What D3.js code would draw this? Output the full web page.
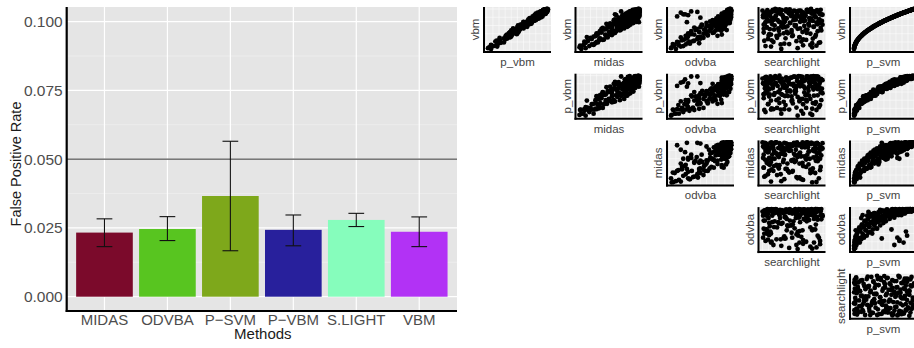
<!DOCTYPE html>
<html>
<head>
<meta charset="utf-8">
<script src="https://cdn.jsdelivr.net/npm/d3@7"></script>
<style>
  body { margin: 0; background: #fff; }
  svg { font-family: "Liberation Sans", Arial, sans-serif; }
</style>
</head>
<body>
<svg id="chart" width="914" height="348"></svg>
<script>
// bar chart data
const methods = ['MIDAS', 'ODVBA', 'P-SVM', 'P-VBM', 'S.LIGHT', 'VBM'];
const fpr = [0.0233, 0.0246, 0.0366, 0.0243, 0.0279, 0.0236];
const fprLow = [0.0182, 0.0204, 0.0167, 0.0185, 0.0255, 0.0182];
const fprHigh = [0.0283, 0.0291, 0.0565, 0.0297, 0.0303, 0.0290];
const barColors = ['#7b0a2b', '#58c520', '#7ea81b', '#28209c', '#86fdbc', '#b232f5'];
const yTicks = [0, 0.025, 0.05, 0.075, 0.1];
const alphaLine = 0.05;

// pairs data (one value per simulation)
const vbm = [
  0.03,0.07,0.10,0.12,0.15,0.18,0.20,0.22,0.25,0.27,0.29,0.31,
  0.33,0.35,0.36,0.38,0.40,0.41,0.43,0.44,0.46,0.47,0.49,0.50,
  0.51,0.52,0.54,0.55,0.56,0.57,0.58,0.59,0.60,0.61,0.62,0.63,
  0.64,0.65,0.66,0.67,0.68,0.69,0.70,0.71,0.71,0.72,0.73,0.74,
  0.75,0.75,0.76,0.77,0.78,0.78,0.79,0.80,0.80,0.81,0.82,0.82,
  0.83,0.84,0.84,0.85,0.86,0.86,0.87,0.88,0.88,0.89,0.89,0.90,
  0.90,0.91,0.91,0.92,0.92,0.93,0.93,0.94,0.94,0.95,0.95,0.96,
  0.96,0.97,0.97,0.98,0.98,0.99,0.99,1.00,0.94,0.87,0.79,0.68,
  0.05,0.09,0.13,0.16,0.19,0.23,0.26,0.30,0.34,0.37,0.39,0.42,
  0.45,0.48,0.50,0.53,0.55,0.57,0.59,0.61,0.62,0.64,0.66,0.67,
  0.69,0.70,0.72,0.73,0.74,0.76,0.77,0.78,0.79,0.81,0.82,0.83,
  0.84,0.85,0.86,0.87,0.88,0.89,0.90,0.91,0.92,0.93,0.94,0.95,
  0.96,0.97,0.98,0.99,1.00,0.98,0.96,0.93,0.91,0.88,0.85,0.80,
  0.76,0.72,0.68,0.63,0.58,0.53,0.47,0.41,0.35,0.28,0.21,0.14,
  0.11,0.24,0.32,0.44,0.52,0.60,0.65,0.71,0.75,0.82,0.87,0.92,
  0.97,0.99,0.94,0.89,0.84,0.78,0.73,0.66,0.56,0.49,0.38,0.17];
const p_vbm = [
  0.07,0.04,0.11,0.07,0.17,0.23,0.18,0.22,0.21,0.30,0.28,0.37,
  0.31,0.40,0.32,0.39,0.43,0.36,0.45,0.43,0.52,0.44,0.49,0.54,
  0.54,0.48,0.59,0.53,0.57,0.51,0.62,0.59,0.57,0.63,0.57,0.69,
  0.63,0.69,0.61,0.70,0.66,0.74,0.66,0.72,0.77,0.69,0.75,0.68,
  0.80,0.73,0.79,0.73,0.78,0.84,0.74,0.82,0.79,0.85,0.79,0.83,
  0.79,0.87,0.82,0.90,0.80,0.87,0.91,0.85,0.90,0.84,0.95,0.90,
  0.93,0.86,0.97,0.90,0.96,0.89,0.94,0.88,0.99,0.94,0.97,0.93,
  0.98,0.93,0.98,0.95,0.98,0.94,1.00,0.98,0.98,0.85,0.82,0.73,
  0.02,0.17,0.07,0.18,0.28,0.16,0.30,0.21,0.40,0.35,0.49,0.37,
  0.52,0.40,0.53,0.43,0.60,0.66,0.55,0.62,0.55,0.72,0.64,0.73,
  0.60,0.74,0.69,0.80,0.68,0.78,0.85,0.70,0.84,0.77,0.91,0.82,
  0.90,0.78,0.89,0.82,0.96,0.80,0.94,0.89,0.97,0.87,0.97,0.91,
  0.98,0.92,0.98,0.96,0.99,0.92,0.99,0.98,0.83,0.95,0.81,0.89,
  0.71,0.78,0.60,0.67,0.56,0.60,0.41,0.50,0.31,0.33,0.14,0.17,
  0.16,0.20,0.39,0.38,0.54,0.51,0.73,0.68,0.81,0.75,0.91,0.87,
  0.95,0.95,0.98,0.95,0.79,0.85,0.70,0.71,0.50,0.52,0.33,0.19];
const midas = [
  0.05,0.02,0.18,0.08,0.26,0.12,0.30,0.15,0.40,0.22,0.35,0.48,
  0.25,0.45,0.30,0.52,0.33,0.58,0.38,0.50,0.62,0.36,0.55,0.70,
  0.45,0.64,0.40,0.72,0.55,0.80,0.48,0.66,0.75,0.52,0.85,0.60,
  0.78,0.58,0.90,0.66,0.72,0.95,0.62,0.80,0.70,0.88,0.68,0.82,
  0.74,0.92,0.66,0.86,0.79,0.98,0.72,0.90,0.84,0.76,0.94,0.88,
  0.80,0.97,0.74,0.92,0.87,1.00,0.83,0.95,0.90,0.78,0.99,0.93,
  0.86,0.98,0.81,0.96,0.91,1.00,0.88,0.97,0.84,0.99,0.93,1.00,
  0.95,0.90,0.99,0.97,1.00,0.93,0.98,0.99,0.70,0.60,0.97,0.99,
  0.12,0.04,0.25,0.10,0.32,0.16,0.42,0.20,0.28,0.55,0.30,0.60,
  0.35,0.68,0.42,0.75,0.50,0.63,0.82,0.55,0.70,0.46,0.88,0.74,
  0.64,0.92,0.76,0.58,0.85,0.70,0.96,0.82,0.66,0.90,0.78,1.00,
  0.89,0.72,0.98,0.84,0.93,0.79,0.97,0.88,1.00,0.91,0.96,0.86,
  0.99,0.94,1.00,0.97,0.98,0.89,0.93,0.99,0.82,0.95,0.62,0.98,
  0.86,0.60,0.79,0.54,0.68,0.40,0.58,0.30,0.47,0.36,0.10,0.22,
  0.03,0.34,0.14,0.56,0.38,0.78,0.52,0.86,0.60,0.93,0.76,0.95,
  0.96,1.00,0.92,0.99,0.94,0.88,0.93,0.84,0.70,0.62,0.44,0.28];
const odvba = [
  0.10,0.03,0.22,0.15,0.05,0.30,0.12,0.38,0.20,0.45,0.28,0.18,
  0.50,0.26,0.62,0.40,0.55,0.30,0.72,0.48,0.35,0.65,0.42,0.80,
  0.58,0.44,0.85,0.66,0.50,0.76,0.60,0.90,0.70,0.53,0.82,0.68,
  0.88,0.72,0.60,0.93,0.78,0.84,0.66,0.96,0.80,0.74,0.91,0.86,
  0.98,0.82,0.89,0.76,0.95,0.87,0.92,0.84,1.00,0.90,0.79,0.96,
  0.93,0.86,0.99,0.91,0.97,0.88,1.00,0.94,0.90,0.98,0.85,0.96,
  0.92,0.99,0.95,0.97,0.89,1.00,0.96,0.93,0.98,0.97,1.00,0.94,
  0.99,0.96,1.00,0.98,0.95,1.00,0.97,0.99,0.35,0.22,0.50,0.28,
  0.02,0.18,0.08,0.33,0.14,0.40,0.24,0.55,0.30,0.62,0.36,0.70,
  0.48,0.75,0.56,0.68,0.40,0.86,0.64,0.78,0.52,0.92,0.72,0.81,
  0.95,0.76,0.88,0.70,0.99,0.84,0.91,0.80,0.97,0.87,0.93,1.00,
  0.90,0.97,0.85,0.99,0.94,0.91,1.00,0.96,0.92,0.98,0.95,0.99,
  0.97,1.00,0.96,0.99,0.98,0.94,1.00,0.45,0.18,0.96,0.30,0.99,
  0.92,0.86,0.97,0.74,0.90,0.68,0.84,0.58,0.78,0.50,0.32,0.26,
  0.06,0.20,0.46,0.60,0.88,0.73,0.94,0.83,0.90,0.12,0.25,0.97,
  0.99,0.98,1.00,0.93,0.97,0.95,0.89,0.98,0.82,0.93,0.85,0.48];
const searchlight = [
  0.31,0.82,0.05,0.67,0.44,0.93,0.18,0.56,0.72,0.09,0.38,0.61,
  0.87,0.23,0.50,0.14,0.79,0.35,0.02,0.66,0.91,0.27,0.48,0.74,
  0.12,0.58,0.96,0.33,0.07,0.85,0.41,0.69,0.20,0.53,0.99,0.16,
  0.76,0.04,0.46,0.89,0.29,0.62,0.11,0.83,0.37,0.70,0.25,0.55,
  0.94,0.08,0.64,0.40,0.19,0.77,0.52,0.01,0.88,0.34,0.60,0.13,
  0.47,0.86,0.22,0.71,0.03,0.57,0.97,0.30,0.65,0.10,0.81,0.43,
  0.26,0.68,0.06,0.92,0.49,0.15,0.75,0.39,0.84,0.21,0.54,0.00,
  0.63,0.32,0.90,0.17,0.73,0.45,0.28,0.80,0.59,0.95,0.06,0.36,
  0.58,0.14,0.79,0.36,0.95,0.03,0.67,0.24,0.49,0.88,0.11,0.73,
  0.40,0.97,0.19,0.62,0.07,0.84,0.31,0.55,0.02,0.76,0.45,0.90,
  0.27,0.68,0.09,0.51,0.93,0.16,0.80,0.38,0.63,0.04,0.86,0.22,
  0.70,0.33,0.99,0.12,0.57,0.44,0.81,0.06,0.66,0.29,0.92,0.18,
  0.52,0.08,0.74,0.39,0.21,0.96,0.60,0.13,0.85,0.47,0.01,0.69,
  0.35,0.78,0.05,0.91,0.54,0.26,0.72,0.42,0.10,0.83,0.64,0.30,
  0.89,0.15,0.61,0.48,0.02,0.77,0.34,0.98,0.20,0.56,0.09,0.43,
  0.75,0.23,0.87,0.04,0.50,0.65,0.17,0.94,0.37,0.71,0.28,0.82];
const p_svm = [
  0.001,0.005,0.010,0.015,0.022,0.033,0.041,0.047,0.063,0.072,0.085,0.097,
  0.108,0.123,0.131,0.143,0.161,0.168,0.186,0.192,0.213,0.221,0.240,0.250,
  0.259,0.272,0.290,0.302,0.315,0.325,0.338,0.346,0.361,0.372,0.385,0.398,
  0.410,0.421,0.437,0.448,0.462,0.475,0.490,0.503,0.505,0.519,0.532,0.548,
  0.562,0.565,0.577,0.594,0.608,0.610,0.624,0.640,0.638,0.655,0.672,0.675,
  0.689,0.705,0.707,0.722,0.740,0.738,0.757,0.774,0.775,0.792,0.790,0.810,
  0.812,0.828,0.830,0.846,0.848,0.865,0.864,0.884,0.886,0.902,0.903,0.922,
  0.921,0.941,0.940,0.960,0.961,0.980,0.979,1.000,0.885,0.756,0.625,0.463,
  0.003,0.008,0.018,0.025,0.037,0.052,0.069,0.089,0.117,0.136,0.153,0.175,
  0.204,0.229,0.252,0.280,0.304,0.323,0.349,0.371,0.386,0.408,0.437,0.448,
  0.477,0.489,0.520,0.532,0.549,0.576,0.594,0.607,0.626,0.655,0.674,0.688,
  0.707,0.721,0.741,0.756,0.776,0.791,0.811,0.827,0.848,0.864,0.885,0.901,
  0.923,0.940,0.962,0.979,0.998,0.959,0.923,0.866,0.826,0.775,0.723,0.641,
  0.578,0.517,0.463,0.398,0.335,0.282,0.220,0.169,0.121,0.079,0.043,0.020,
  0.012,0.058,0.103,0.193,0.271,0.359,0.423,0.505,0.561,0.673,0.758,0.845,
  0.941,0.981,0.884,0.793,0.705,0.609,0.534,0.436,0.314,0.241,0.145,0.029];

const rowVars = ['vbm', 'p_vbm', 'midas', 'odvba', 'searchlight'];
const colVars = ['p_vbm', 'midas', 'odvba', 'searchlight', 'p_svm'];
const pairData = { vbm, p_vbm, midas, odvba, searchlight, p_svm };

const svg = d3.select('#chart');

// ---------- bar chart ----------
const panel = { left: 66.7, right: 457, top: 7, bottom: 311 };

const x = d3.scaleBand()
  .domain(methods)
  .range([panel.left, panel.right])
  .paddingInner(0.1)
  .paddingOuter(0.15);

const y = d3.scaleLinear()
  .domain([-0.0052, 0.1053])
  .range([panel.bottom, panel.top]);

const bar = svg.append('g').attr('class', 'bars');

bar.append('rect')
  .attr('x', panel.left).attr('y', panel.top)
  .attr('width', panel.right - panel.left)
  .attr('height', panel.bottom - panel.top)
  .attr('fill', '#e5e5e5');

// minor + major grid
const minor = [0.0125, 0.0375, 0.0625, 0.0875];
bar.selectAll('line.minor')
  .data(minor)
  .join('line')
  .attr('x1', panel.left).attr('x2', panel.right)
  .attr('y1', d => y(d)).attr('y2', d => y(d))
  .attr('stroke', '#f2f2f2').attr('stroke-width', 0.6);

bar.selectAll('line.major')
  .data(yTicks)
  .join('line')
  .attr('x1', panel.left).attr('x2', panel.right)
  .attr('y1', d => y(d)).attr('y2', d => y(d))
  .attr('stroke', '#fff').attr('stroke-width', 1.2);

bar.selectAll('line.vgrid')
  .data(methods)
  .join('line')
  .attr('x1', d => x(d) + x.bandwidth() / 2)
  .attr('x2', d => x(d) + x.bandwidth() / 2)
  .attr('y1', panel.top).attr('y2', panel.bottom)
  .attr('stroke', '#fff').attr('stroke-width', 1.2);

bar.selectAll('rect.bar')
  .data(methods)
  .join('rect')
  .attr('class', 'bar')
  .attr('x', d => x(d))
  .attr('width', x.bandwidth())
  .attr('y', (d, i) => y(fpr[i]))
  .attr('height', (d, i) => y(0) - y(fpr[i]))
  .attr('fill', (d, i) => barColors[i]);

// reference line
bar.append('line')
  .attr('x1', panel.left).attr('x2', panel.right)
  .attr('y1', y(alphaLine)).attr('y2', y(alphaLine))
  .attr('stroke', '#2b2b2b').attr('stroke-width', 1);

// error bars
const ebW = x.step() * 0.25;
const eb = bar.selectAll('g.eb')
  .data(methods)
  .join('g')
  .attr('transform', d => `translate(${x(d) + x.bandwidth() / 2},0)`)
  .attr('stroke', '#111').attr('stroke-width', 1.1);
eb.append('line').attr('y1', (d, i) => y(fprLow[i])).attr('y2', (d, i) => y(fprHigh[i]));
eb.append('line').attr('x1', -ebW / 2).attr('x2', ebW / 2)
  .attr('y1', (d, i) => y(fprLow[i])).attr('y2', (d, i) => y(fprLow[i]));
eb.append('line').attr('x1', -ebW / 2).attr('x2', ebW / 2)
  .attr('y1', (d, i) => y(fprHigh[i])).attr('y2', (d, i) => y(fprHigh[i]));

// axes lines
bar.append('line')
  .attr('x1', panel.left).attr('x2', panel.left)
  .attr('y1', panel.top).attr('y2', panel.bottom + 1)
  .attr('stroke', '#000').attr('stroke-width', 2.2);
bar.append('line')
  .attr('x1', panel.left - 1).attr('x2', panel.right)
  .attr('y1', panel.bottom).attr('y2', panel.bottom)
  .attr('stroke', '#000').attr('stroke-width', 2.2);

// tick labels
bar.selectAll('text.ytick')
  .data(yTicks)
  .join('text')
  .attr('x', panel.left - 4)
  .attr('y', d => y(d))
  .attr('dy', '0.36em')
  .attr('text-anchor', 'end')
  .attr('fill', '#4d4d4d')
  .style('font-size', '15.5px')
  .text(d3.format('.3f'));

bar.selectAll('text.xtick')
  .data(methods)
  .join('text')
  .attr('x', d => x(d) + x.bandwidth() / 2)
  .attr('y', 325)
  .attr('text-anchor', 'middle')
  .attr('fill', '#4d4d4d')
  .style('font-size', '15px')
  .text(d => d.replace('-', '\u2212'));

bar.append('text')
  .attr('x', (panel.left + panel.right) / 2 + 1)
  .attr('y', 339)
  .attr('text-anchor', 'middle')
  .attr('fill', '#1a1a1a')
  .style('font-size', '15px')
  .text('Methods');

bar.append('text')
  .attr('transform', `translate(${21},${(panel.top + panel.bottom) / 2 + 5}) rotate(-90)`)
  .attr('text-anchor', 'middle')
  .attr('fill', '#1a1a1a')
  .style('font-size', '14.5px')
  .text('False Positive Rate');

// ---------- pairs panels ----------
const cellW = 67, cellH = 45;
const colLeft = [484, 575.5, 667, 758.5, 850];
const rowTop = [7, 73.7, 140.4, 207.1, 273.8];
const radius = 2.4;

const pairs = svg.append('g').attr('class', 'pairs');

rowVars.forEach((rv, i) => {
  colVars.forEach((cv, j) => {
    if (j < i) return;
    const l = colLeft[j], t = rowTop[i];
    const xs = d3.scaleLinear()
      .domain(d3.extent(pairData[cv])).range([l + 1, l + cellW]);
    const ys = d3.scaleLinear()
      .domain(d3.extent(pairData[rv])).range([t + cellH - 1, t]);
    // ggplot style 5% expansion
    const dx = xs.domain(), dy = ys.domain();
    const ex = (dx[1] - dx[0]) * 0.05, ey = (dy[1] - dy[0]) * 0.05;
    xs.domain([dx[0] - ex, dx[1] + ex]);
    ys.domain([dy[0] - ey, dy[1] + ey]);

    const g = pairs.append('g');
    g.append('rect')
      .attr('x', l).attr('y', t).attr('width', cellW).attr('height', cellH)
      .attr('fill', '#ebebeb');
    g.selectAll('line.gx')
      .data(xs.ticks(8))
      .join('line')
      .attr('x1', d => xs(d)).attr('x2', d => xs(d))
      .attr('y1', t).attr('y2', t + cellH)
      .attr('stroke', '#fff').attr('stroke-width', 0.5);
    g.selectAll('line.gy')
      .data(ys.ticks(6))
      .join('line')
      .attr('x1', l).attr('x2', l + cellW)
      .attr('y1', d => ys(d)).attr('y2', d => ys(d))
      .attr('stroke', '#fff').attr('stroke-width', 0.5);

    g.selectAll('circle')
      .data(d3.range(vbm.length))
      .join('circle')
      .attr('cx', k => xs(pairData[cv][k]))
      .attr('cy', k => ys(pairData[rv][k]))
      .attr('r', radius)
      .attr('fill', '#000');

    g.append('line')
      .attr('x1', l).attr('x2', l).attr('y1', t).attr('y2', t + cellH + 1)
      .attr('stroke', '#000').attr('stroke-width', 2);
    g.append('line')
      .attr('x1', l - 1).attr('x2', l + cellW).attr('y1', t + cellH).attr('y2', t + cellH)
      .attr('stroke', '#000').attr('stroke-width', 2);

    g.append('text')
      .attr('x', l + cellW / 2)
      .attr('y', t + cellH + 14)
      .attr('text-anchor', 'middle')
      .attr('fill', '#444')
      .style('font-size', '11.5px')
      .text(cv);
    g.append('text')
      .attr('transform', `translate(${l - 5},${t + cellH / 2}) rotate(-90)`)
      .attr('text-anchor', 'middle')
      .attr('fill', '#444')
      .style('font-size', '11.5px')
      .text(rv);
  });
});
</script>
</body>
</html>
